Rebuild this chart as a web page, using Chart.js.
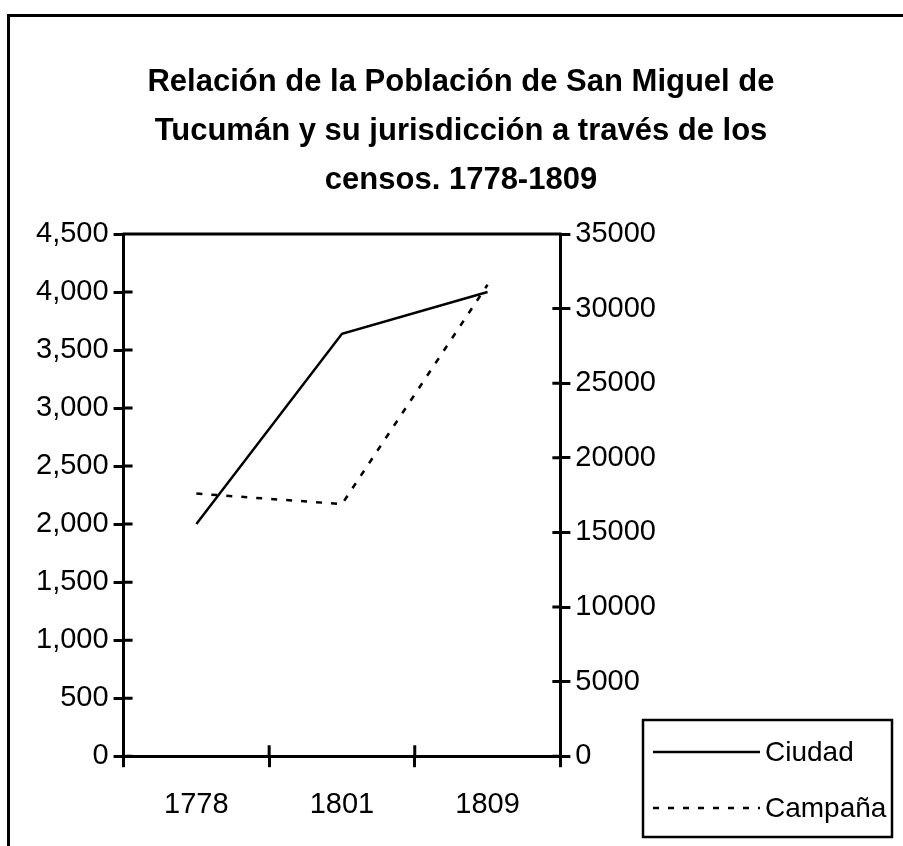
<!DOCTYPE html>
<html>
<head>
<meta charset="utf-8">
<script src="https://cdn.jsdelivr.net/npm/chart.js@4.4.0/dist/chart.umd.min.js"></script>
<style>
  html, body { margin: 0; padding: 0; background: #fff; }
  #wrap { position: relative; width: 903px; height: 846px; overflow: hidden; }
  #frame {
    position: absolute; left: 7px; top: 14px; width: 1000px; height: 1000px;
    border-top: 3px solid #000; border-left: 3px solid #000; pointer-events: none;
  }
  #title {
    position: absolute; left: 0; top: 56px; width: 922px; text-align: center;
    font: bold 31px "Liberation Sans", Arial, sans-serif; line-height: 49px; color: #000;
  }
  canvas { position: absolute; left: 0; top: 0; }
</style>
</head>
<body>
<div id="wrap">
  <div id="frame"></div>
  <canvas id="chart" width="903" height="846"></canvas>
  <div id="title"></div>
</div>
<script>
const years    = ['1778', '1801', '1809'];
const ciudad   = [2000, 3640, 4000];
const campana  = [17600, 16900, 31600];
const titleLines = [
    'Relación de la Población de San Miguel de',
    'Tucumán y su jurisdicción a través de los',
    'censos. 1778-1809'
];

const FONT = '"Liberation Sans", Arial, sans-serif';
Chart.defaults.color = '#000';
Chart.defaults.font.family = FONT;

// title as real text above the canvas
document.getElementById('title').innerHTML = titleLines.join('<br>');

/* axis extras: top line of the plot box and ticks crossing inside */
const axisExtras = {
    id: 'axisExtras',
    afterDatasetsDraw(chart) {
        const { ctx, chartArea: a, scales } = chart;
        ctx.save();
        ctx.strokeStyle = '#000';
        ctx.lineWidth = 3;
        ctx.beginPath();
        ctx.moveTo(a.left - 1, a.top);
        ctx.lineTo(a.right + 1, a.top);
        scales.y.ticks.forEach((t, i) => {
            const py = scales.y.getPixelForTick(i);
            ctx.moveTo(a.left, py);
            ctx.lineTo(a.left + 9, py);
        });
        scales.y2.ticks.forEach((t, i) => {
            const py = scales.y2.getPixelForTick(i);
            ctx.moveTo(a.right - 8, py);
            ctx.lineTo(a.right, py);
        });
        for (let i = 1; i < scales.x.ticks.length; i++) {
            const px = (scales.x.getPixelForTick(i - 1) + scales.x.getPixelForTick(i)) / 2;
            ctx.moveTo(px, a.bottom);
            ctx.lineTo(px, a.bottom - 11);
        }
        ctx.stroke();
        ctx.restore();
    }
};

/* boxed legend at the lower right */
const boxLegend = {
    id: 'boxLegend',
    afterDraw(chart) {
        const ctx = chart.ctx;
        ctx.save();
        ctx.strokeStyle = '#000';
        ctx.lineWidth = 2.5;
        ctx.strokeRect(643, 720, 249, 117);
        chart.data.datasets.forEach((ds, i) => {
            const y = 752 + i * 56;
            ctx.beginPath();
            ctx.lineWidth = ds.borderWidth;
            ctx.setLineDash(ds.borderDash || []);
            ctx.moveTo(653, y);
            ctx.lineTo(760, y);
            ctx.stroke();
            ctx.setLineDash([]);
            ctx.fillStyle = '#000';
            ctx.font = '28px ' + FONT;
            ctx.textBaseline = 'middle';
            ctx.fillText(ds.label, 765, y + 1);
        });
        ctx.restore();
    }
};

new Chart(document.getElementById('chart'), {
    type: 'line',
    data: {
        labels: years,
        datasets: [
            {
                label: 'Ciudad',
                data: ciudad,
                yAxisID: 'y',
                borderColor: '#000',
                borderWidth: 2.5,
                pointRadius: 0,
                tension: 0
            },
            {
                label: 'Campaña',
                data: campana,
                yAxisID: 'y2',
                borderColor: '#000',
                borderWidth: 2.5,
                borderDash: [6, 9],
                pointRadius: 0,
                tension: 0
            }
        ]
    },
    options: {
        responsive: false,
        animation: false,
        layout: { padding: { left: 31, right: 242, top: 234, bottom: 4 } },
        plugins: {
            legend: { display: false },
            tooltip: { enabled: false },
            title: { display: false }
        },
        scales: {
            x: {
                offset: true,
                grid: { offset: true, drawOnChartArea: false, color: '#000', lineWidth: 3, tickLength: 11 },
                border: { color: '#000', width: 3 },
                ticks: { font: { size: 29 }, padding: 20, maxRotation: 0 }
            },
            y: {
                position: 'left',
                min: 0,
                max: 4500,
                grid: { drawOnChartArea: false, color: '#000', lineWidth: 3, tickLength: 10 },
                border: { color: '#000', width: 3 },
                ticks: {
                    stepSize: 500,
                    padding: 5,
                    font: { size: 29 },
                    callback: v => v.toLocaleString('en-US')
                }
            },
            y2: {
                position: 'right',
                min: 0,
                max: 35000,
                grid: { drawOnChartArea: false, color: '#000', lineWidth: 3, tickLength: 10 },
                border: { color: '#000', width: 3 },
                ticks: {
                    stepSize: 5000,
                    padding: 5,
                    font: { size: 29 },
                    callback: v => String(v)
                }
            }
        }
    },
    plugins: [axisExtras, boxLegend]
});
</script>
</body>
</html>
